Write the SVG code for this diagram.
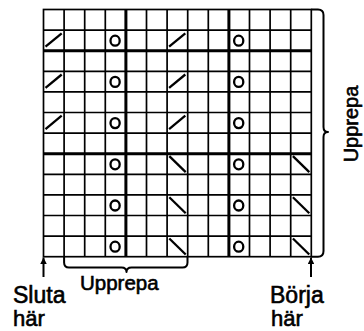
<svg xmlns="http://www.w3.org/2000/svg" xmlns:xlink="http://www.w3.org/1999/xlink" width="364" height="331" viewBox="0 0 364 331">
<style>
.g{stroke:#000;stroke-width:1.7;fill:none}
.gt{stroke:#000;stroke-width:3;fill:none}
.s{stroke:#000;stroke-width:2.3;fill:none;stroke-linecap:butt}
.b{stroke:#000;stroke-width:2;fill:none;stroke-linejoin:round}
.t{font-family:"Liberation Sans",Arial,sans-serif;fill:#000;stroke:#000;stroke-width:0.6}
</style>
<defs>
<line id="sl" x1="2" y1="16.6" x2="18.2" y2="3.2" class="s"/>
<line id="bs" x1="2.2" y1="2.4" x2="18.6" y2="18.4" class="s"/>
<ellipse id="ci" cx="9.8" cy="10.6" rx="4.6" ry="5" class="s"/>
<marker id="ah" viewBox="0 0 10 10" refX="10" refY="5" markerWidth="10" markerHeight="6.5" markerUnits="userSpaceOnUse" orient="auto"><path d="M0,0 L10,5 L0,10 Z" fill="#000"/></marker>
</defs>
<g id="grid">
<rect x="43.5" y="9.5" width="267.8" height="247.2" class="g"/>
<path class="g" d="M64.1,9.5V256.7M84.7,9.5V256.7M105.3,9.5V256.7M146.5,9.5V256.7M167.1,9.5V256.7M187.7,9.5V256.7M208.3,9.5V256.7M249.5,9.5V256.7M270.1,9.5V256.7M290.7,9.5V256.7"/>
<path class="g" d="M43.5,30.1H311.3M43.5,71.3H311.3M43.5,91.9H311.3M43.5,112.5H311.3M43.5,133.1H311.3M43.5,174.3H311.3M43.5,194.9H311.3M43.5,215.5H311.3M43.5,236.1H311.3"/>
<path class="gt" d="M125.9,9.5V256.7M228.9,9.5V256.7M43.5,50.7H311.3M43.5,153.7H311.3"/>
</g>
<g id="symbols">
<use xlink:href="#sl" x="43.5" y="30.1"/><use xlink:href="#sl" x="167.1" y="30.1"/>
<use xlink:href="#sl" x="43.5" y="71.3"/><use xlink:href="#sl" x="167.1" y="71.3"/>
<use xlink:href="#sl" x="43.5" y="112.5"/><use xlink:href="#sl" x="167.1" y="112.5"/>
<use xlink:href="#ci" x="105.3" y="30.1"/><use xlink:href="#ci" x="228.9" y="30.1"/>
<use xlink:href="#ci" x="105.3" y="71.3"/><use xlink:href="#ci" x="228.9" y="71.3"/>
<use xlink:href="#ci" x="105.3" y="112.5"/><use xlink:href="#ci" x="228.9" y="112.5"/>
<use xlink:href="#ci" x="105.3" y="153.7"/><use xlink:href="#ci" x="228.9" y="153.7"/>
<use xlink:href="#ci" x="105.3" y="194.9"/><use xlink:href="#ci" x="228.9" y="194.9"/>
<use xlink:href="#ci" x="105.3" y="236.1"/><use xlink:href="#ci" x="228.9" y="236.1"/>
<use xlink:href="#bs" x="167.1" y="153.7"/><use xlink:href="#bs" x="290.7" y="153.7"/>
<use xlink:href="#bs" x="167.1" y="194.9"/><use xlink:href="#bs" x="290.7" y="194.9"/>
<use xlink:href="#bs" x="167.1" y="236.1"/><use xlink:href="#bs" x="290.7" y="236.1"/>
</g>
<g id="connectors">
<path class="b" d="M311.3,9.5H318Q323.5,9.5 323.5,15V127Q323.5,132 328,132Q323.5,132 323.5,137V251Q323.5,256.7 318,256.7H311.3"/>
<path class="b" d="M64.1,256.7V262.5Q64.1,267.5 69,267.5H121.5Q126.5,267.5 126.5,272Q126.5,267.5 131.5,267.5H182.5Q187.5,267.5 187.5,262.5V256.7"/>
<line x1="43.5" y1="277" x2="43.5" y2="257.5" stroke="#000" stroke-width="2" marker-end="url(#ah)"/>
<line x1="311" y1="277" x2="311" y2="257.5" stroke="#000" stroke-width="2" marker-end="url(#ah)"/>
</g>
<g id="labels">
<text class="t" x="80" y="290" font-size="20.5">Upprepa</text>
<text class="t" font-size="20" text-anchor="middle" transform="translate(357.5,124) rotate(-90)">Upprepa</text>
<text class="t" x="13" y="303.3" font-size="23">Sluta</text>
<text class="t" x="13" y="326" font-size="22">här</text>
<text class="t" x="270" y="303.3" font-size="23">Börja</text>
<text class="t" x="271" y="326" font-size="22">här</text>
</g>
</svg>
